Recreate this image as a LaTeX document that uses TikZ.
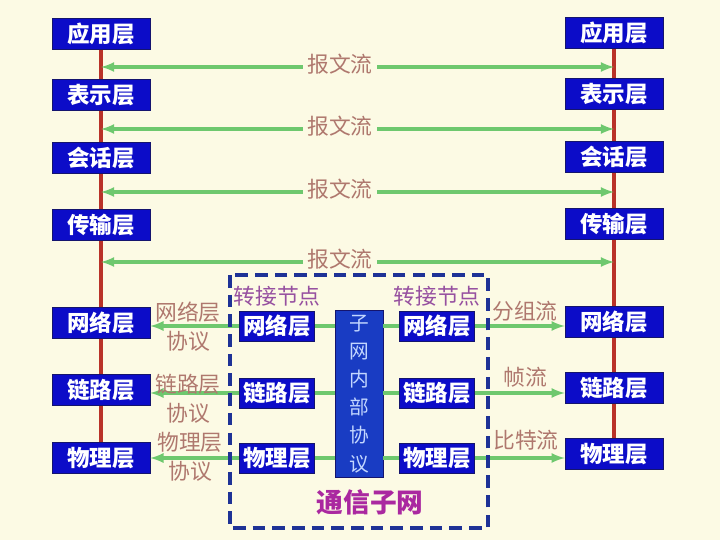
\documentclass[tikz,border=0pt]{standalone}
\usepackage{fontspec}
\setmainfont{Noto Sans CJK SC}
\newfontfamily\cjk{Noto Sans CJK SC}
\usetikzlibrary{arrows}

\definecolor{paper}{RGB}{252,250,228}
\definecolor{layerblue}{RGB}{12,12,200}
\definecolor{layerline}{RGB}{20,20,110}
\definecolor{coreblue}{RGB}{25,60,195}
\definecolor{coretext}{RGB}{195,215,255}
\definecolor{flowgreen}{RGB}{110,200,110}
\definecolor{axisred}{RGB}{185,50,40}
\definecolor{protobrown}{RGB}{175,120,110}
\definecolor{relaypurple}{RGB}{150,80,160}
\definecolor{subnetpink}{RGB}{170,40,160}
\definecolor{subnetblue}{RGB}{30,50,150}

\begin{document}
\begin{tikzpicture}[x=0.025cm, y=-0.025cm,
    layer/.style={draw=layerline, fill=layerblue, text=white, inner sep=0pt, minimum width=2.45cm, minimum height=0.78cm, font=\cjk\bfseries\fontsize{16}{18}\selectfont},
    relay/.style={layer, minimum width=1.875cm, minimum height=0.75cm},
    core/.style={draw=layerline, fill=coreblue, text=coretext, inner sep=0pt, minimum width=1.2cm, minimum height=4.18cm, align=center, font=\cjk\fontsize{14}{20}\selectfont},
    axis/.style={draw=axisred, line width=2.6pt},
    msg/.style={draw=flowgreen, line width=2.2pt, latex-latex},
    flow/.style={draw=flowgreen, line width=2.2pt, -latex},
    link/.style={draw=flowgreen, line width=2.2pt},
    msglabel/.style={fill=paper, text=protobrown, inner sep=3pt, font=\cjk\fontsize{15.5}{17}\selectfont},
    proto/.style={text=protobrown, align=center, inner sep=0pt, font=\cjk\fontsize{15.5}{20.5}\selectfont},
    relaylabel/.style={text=relaypurple, font=\cjk\fontsize{15.5}{18}\selectfont},
    subnet/.style={draw=subnetblue, line width=2.2pt, dash pattern=on 9pt off 5pt}
  ]
    \fill[paper] (0,0) rectangle (720,540);

    \node[layer] (lapp) at (101,34) {应用层};
    \node[layer] (lpre) at (101,95) {表示层};
    \node[layer] (lses) at (101,158) {会话层};
    \node[layer] (ltra) at (101,225) {传输层};
    \node[layer] (lnet) at (101,323) {网络层};
    \node[layer] (llnk) at (101,390) {链路层};
    \node[layer] (lphy) at (101,458) {物理层};

    \node[layer] (rapp) at (614,33) {应用层};
    \node[layer] (rpre) at (614,94) {表示层};
    \node[layer] (rses) at (614,157) {会话层};
    \node[layer] (rtra) at (614,224) {传输层};
    \node[layer] (rnet) at (614,322) {网络层};
    \node[layer] (rlnk) at (614,388) {链路层};
    \node[layer] (rphy) at (614,454) {物理层};

    \foreach \a/\b in {app/pre,pre/ses,ses/tra,tra/net,net/lnk,lnk/phy}{
        \draw[axis] (l\a) -- (l\b);
        \draw[axis] (r\a) -- (r\b);
    }

    \foreach \n/\y in {1/67,2/129,3/192,4/262}{
        \coordinate (m\n) at (340,\y);
        \draw[msg] (lapp.south |- m\n) -- (rapp.south |- m\n);
        \node[msglabel] (msg\n) at ([yshift=0.06cm]m\n) {报文流};
    }

    \node[core] (sub) at (359,394) {子\\网\\内\\部\\协\\议};

    \node[relay] (inet) at (277,326) {网络层};
    \node[relay] (ilnk) at (277,393) {链路层};
    \node[relay] (iphy) at (277,458) {物理层};
    \node[relay] (onet) at (437,326) {网络层};
    \node[relay] (olnk) at (437,393) {链路层};
    \node[relay] (ophy) at (437,458) {物理层};

    \foreach \s in {net,lnk,phy}{
        \draw[link] (sub.west |- i\s.east) -- (i\s.east);
        \draw[flow] (i\s.west) -- (l\s.east |- i\s.west);
        \draw[link] (sub.east |- o\s.west) -- (o\s.west);
        \draw[flow] (o\s.east) -- (r\s.west |- o\s.east);
    }

    \node[proto] (pnet) at (188,327) {网络层\\协议};
    \node[proto] (plnk) at (188,399) {链路层\\协议};
    \node[proto] (pphy) at (190,457) {物理层\\协议};
    \node[proto] (fnet) at (525,311) {分组流};
    \node[proto] (flnk) at (525,377) {帧流};
    \node[proto] (fphy) at (526,440) {比特流};

    \draw[subnet] (230,275) rectangle (488,528);
    \node[relaylabel] (lrelay) at (277,296) {转接节点};
    \node[relaylabel] (rrelay) at (437,296) {转接节点};
    \node[text=subnetpink, font=\cjk\bfseries\fontsize{19}{22}\selectfont] (title) at (370,502) {通信子网};
\end{tikzpicture}
\end{document}
